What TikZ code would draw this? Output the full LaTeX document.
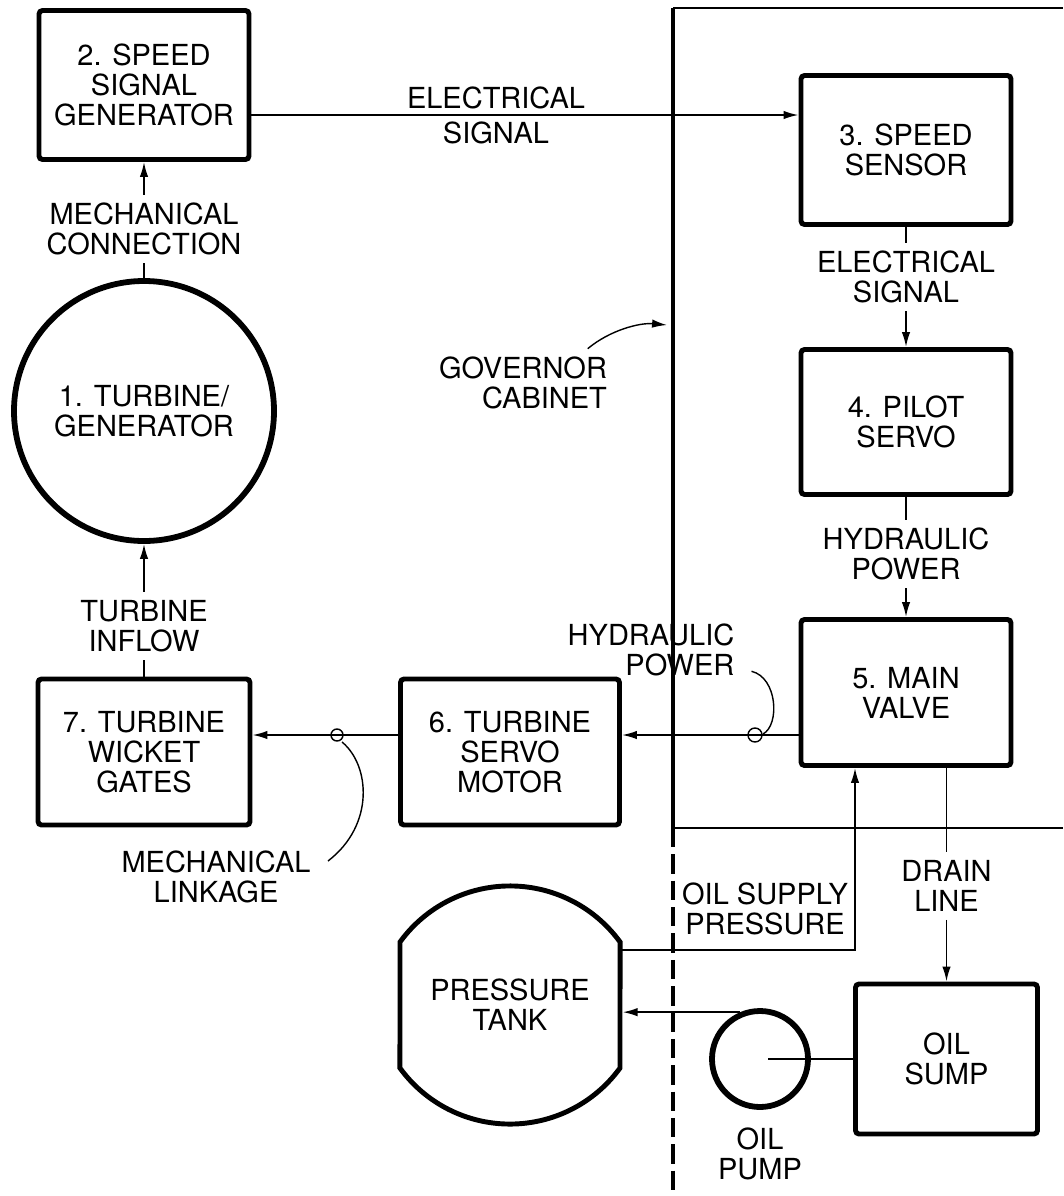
\documentclass[tikz,border=0pt]{standalone}
\usepackage{fontspec}
\setmainfont{TeX Gyre Heros}
\usepackage{tikz}
\usetikzlibrary{arrows.meta,shapes,positioning,calc}

\begin{document}
\begin{tikzpicture}[
        node distance=2cm,
        every node/.style={font=\fontsize{16.5}{17}\selectfont},
        block/.style={rectangle, draw, line width=2.8pt, rounded corners=2pt, minimum width=4.2cm, minimum height=2.95cm, align=center},
        roundunit/.style={circle, draw, line width=3.3pt, inner sep=0pt, align=center},
        % tank outline is drawn by hand round this node
        vessel/.style={rectangle, minimum width=4.4cm, minimum height=2.52cm, outer sep=0pt, align=center},
        lbl/.style={align=center, inner sep=4.5pt},
        arrow/.style={line width=1pt, ->, >={Latex[length=8.5pt,width=4.8pt]}},
        link/.style={line width=1pt},
        leader/.style={line width=0.8pt},
        cabwall/.style={line width=1.8pt}
    ]
    \useasboundingbox (0,0) rectangle (21.26,-23.92);

    % --- Turbine side ---
    \node (gen) at (2.88,-1.70) [block, minimum height=2.98cm] {2. SPEED\\SIGNAL\\GENERATOR};
    \node (mechconn) [below of=gen, yshift=-0.88cm, lbl] {MECHANICAL\\CONNECTION};
    \node (turb) [below of=gen, yshift=-4.52cm, roundunit, minimum size=5.2cm] {1. TURBINE/\\GENERATOR};
    \node (inflow) [below of=turb, yshift=-2.3cm, lbl] {TURBINE\\INFLOW};
    \node (gates) [below of=turb, yshift=-4.82cm, block, minimum width=4.24cm, minimum height=2.92cm] {7. TURBINE\\WICKET\\GATES};
    \node (servo) [right of=gates, xshift=5.32cm, block, minimum width=4.38cm, minimum height=2.92cm] {6. TURBINE\\SERVO\\MOTOR};
    \node (linkage) [below of=gates, xshift=1.44cm, yshift=-0.5cm, lbl] {MECHANICAL\\LINKAGE};
    \node (tank) [below of=servo, yshift=-3.06cm, vessel] {PRESSURE\\TANK};

    % --- Governor cabinet ---
    \node (sensor) [right of=gen, xshift=13.24cm, yshift=-1.3cm, block, minimum height=2.98cm] {3. SPEED\\SENSOR};
    \node (elec2) [below of=sensor, yshift=-0.54cm, lbl] {ELECTRICAL\\SIGNAL};
    \node (pilot) [below of=sensor, yshift=-3.44cm, block, minimum height=2.9cm] {4. PILOT\\SERVO};
    \node (hyd1) [below of=pilot, yshift=-0.64cm, lbl] {HYDRAULIC\\POWER};
    \node (valve) [below of=pilot, yshift=-3.41cm, block, minimum height=2.92cm] {5. MAIN\\VALVE};
    \node (hyd2) [above of=servo, xshift=2.82cm, yshift=0.04cm, lbl, align=right] {HYDRAULIC\\POWER};
    \node (cabinet) [right of=turb, xshift=5.58cm, yshift=0.56cm, lbl, align=right] {GOVERNOR\\CABINET};

    % --- Oil system ---
    \node (pump) [right of=tank, xshift=3cm, yshift=-1.08cm, roundunit, minimum size=1.92cm] {};
    \node (pumplbl) [below of=pump, yshift=0.1cm, lbl] {OIL\\PUMP};
    \node (sump) [right of=pump, xshift=1.73cm, block, minimum width=3.64cm, minimum height=3.0cm] {OIL\\SUMP};
    \node (drain) [above of=sump, yshift=1.46cm, lbl] {DRAIN\\LINE};
    \node (supply) [above of=pump, xshift=0.1cm, yshift=1.0cm, lbl] {OIL SUPPLY\\PRESSURE};

    \draw[line width=2.8pt] (tank.north west) arc[start angle=144, end angle=36, radius=2.72cm]
        -- (tank.south east) arc[start angle=-36, end angle=-144, radius=2.72cm] -- cycle;

    % cabinet walls
    \draw[cabwall] (13.46,-0.16) -- (13.46,-16.56);
    \draw[line width=1.3pt] (13.46,-0.16) -- (21.26,-0.16);
    \draw[line width=1.3pt] (13.46,-16.56) -- (21.26,-16.56);
    \draw[cabwall, dash pattern=on 11pt off 4pt] (13.46,-16.56) -- (13.46,-23.92);

    % --- Connections ---
    \coordinate (e1) at ([yshift=-6mm]gen.east);
    \draw[arrow] (e1) -- (e1 -| sensor.west) node[pos=0.447, lbl] (elec1) {ELECTRICAL\\[3pt]SIGNAL};
    \draw[link] (turb) -- (mechconn);
    \draw[arrow] (mechconn) -- (gen);
    \draw[link] (sensor) -- (elec2);
    \draw[arrow] (elec2) -- (pilot);
    \draw[link] (pilot) -- (hyd1);
    \draw[arrow] (hyd1) -- (valve);
    \coordinate (v1) at ([yshift=-8.5mm]valve.west);
    \draw[arrow] (v1) -- (v1 -| servo.east);
    \coordinate (s1) at ([yshift=3.4mm]servo.west);
    \draw[arrow] (s1) -- (s1 -| gates.east);
    \draw[link] (gates) -- (inflow);
    \draw[arrow] (inflow) -- (turb);

    \coordinate (t1) at ([yshift=11mm]tank.east);
    \draw[arrow] (t1) -| ([xshift=-10.2mm]valve.south);
    \draw[link] (valve.south -| drain) -- (drain);
    \draw[arrow] (drain) -- (sump);
    \draw[link] ([xshift=1.6mm]pump.center) -- (sump.west);
    \draw[arrow, shorten >=1.5pt] (pump.113) -- (pump.113 -| tank.east);

    % leaders
    \coordinate (hp0) at ([xshift=1.8mm,yshift=2.6mm]hyd2.south east);
    \draw[leader] (hp0) .. controls (15.55,-13.55) and (15.6,-14.5) .. (15.26,-14.68);
    \draw[leader] (15.1,-14.70) circle (0.14);
    \draw[leader] (6.84,-14.84) .. controls (7.4,-15.3) and (7.5,-16.5) .. (6.56,-17.22);
    \draw[leader] (6.74,-14.70) circle (0.12);
    \coordinate (cab0) at ([xshift=-5.5mm]cabinet.north east);
    \draw[arrow, line width=0.8pt] (cab0) .. controls (12.2,-6.6) and (12.8,-6.45) .. (13.34,-6.5);

\end{tikzpicture}
\end{document}
